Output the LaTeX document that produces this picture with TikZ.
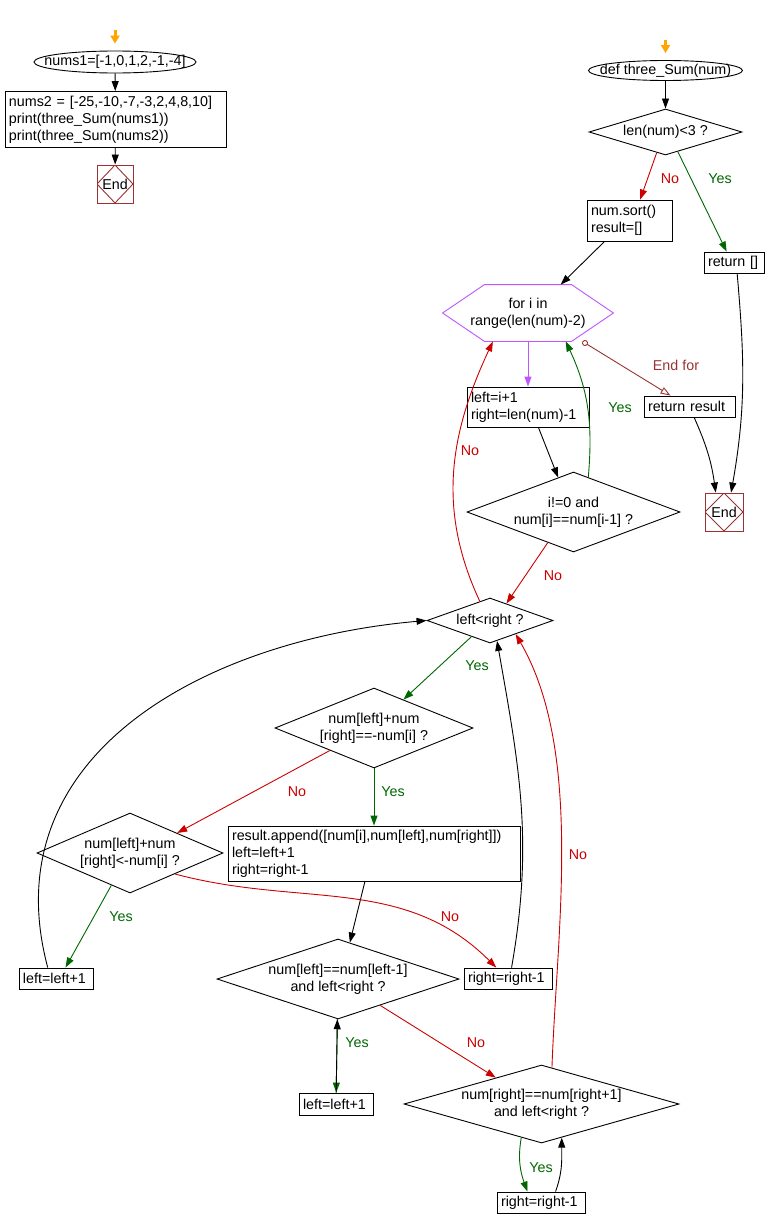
\documentclass[tikz,border=0pt]{standalone}
\usepackage{fontspec}
\setmainfont{Liberation Sans}
\usetikzlibrary{arrows.meta, shapes.geometric, calc}
\definecolor{NoRed}{RGB}{204,0,0}
\definecolor{YesGreen}{RGB}{0,102,0}
\definecolor{EndRed}{RGB}{153,51,51}
\definecolor{LoopViolet}{RGB}{190,85,255}
\definecolor{StartOrange}{RGB}{255,165,0}
\exhyphenpenalty=10000
\hyphenpenalty=10000
\tikzset{
  proc/.style={draw, align=left, inner xsep=4pt, inner ysep=2pt, minimum height=21pt},
  decide/.style={draw, diamond, align=center, inner sep=0pt},
  stopbox/.style={draw=EndRed, minimum width=36pt, minimum height=37pt, inner sep=0pt,
    path picture={\draw[EndRed] (path picture bounding box.north) -- (path picture bounding box.east)
      -- (path picture bounding box.south) -- (path picture bounding box.west) -- cycle;}},
  arr/.style={-{Triangle[length=10pt,width=7pt]}},
  noarr/.style={arr, NoRed},
  yesarr/.style={arr, YesGreen},
  startarr/.style={-{Triangle[length=8pt,width=9pt]}, StartOrange, line width=3pt, shorten >=7pt},
  nolab/.style={text=NoRed},
  yeslab/.style={text=YesGreen},
}

\begin{document}
\begin{tikzpicture}[x=1pt, y=-1pt, line width=0.9pt, font=\fontsize{14.3}{17}\selectfont]
  \useasboundingbox (0,0) rectangle (766,1228);
  % main program
  \node (start1) at (115,62) [minimum width=162pt, minimum height=22pt, inner sep=0pt] {nums1=[-1,0,1,2,-1,-4]};
  \draw (start1.center) ellipse [x radius=81pt, y radius=11pt];
  \node[proc, text width=213pt, minimum height=56pt] (mainbox) at (115.5,119.5)
       {nums2 = [-25,-10,-7,-3,2,4,8,10]\\print(three\_Sum(nums1))\\print(three\_Sum(nums2))};
  \node[stopbox, minimum height=38pt] (end1) at (115,184) {End};
  \coordinate (go1) at (115,30);
  \draw[startarr] (go1) -- (start1.north);
  \draw[arr] (start1) -- (mainbox);
  \draw[arr] (mainbox) -- (end1);

  % function three_Sum
  \node (func) at (665.5,70.5) [minimum width=154pt, minimum height=20pt, inner sep=0pt] {def three\_Sum(num)};
  \draw (func.center) ellipse [x radius=77pt, y radius=10pt];
  \node[decide, aspect=3.3, minimum width=153pt, minimum height=46pt] (lencheck) at (665.5,132) {len(num)<3 ?};
  \node[proc, text width=77pt, minimum height=41pt] (sortbox) at (629.5,220.5) {num.sort()\\result=[]};
  \node[proc, text width=52pt] (retempty) at (734,262.5) {return []};
  \node (loop) at (528,313) [minimum width=170pt, minimum height=56pt, align=center, inner sep=0pt]
       {for i in\\range(len(num)-2)};
  \draw[LoopViolet] (loop.west) -- ($(loop.north west)+(42,0)$) -- ($(loop.north east)+(-42,0)$) -- (loop.east)
       -- ($(loop.south east)+(-42,0)$) -- ($(loop.south west)+(42,0)$) -- cycle;
  \node[proc, text width=114pt, minimum height=40pt] (initbox) at (528,407) {left=i+1\\right=len(num)-1};
  \node[proc, text width=83pt] (retres) at (689.5,406.5) {return result};
  \node[decide, aspect=2.66, minimum width=213pt, minimum height=80pt] (dupcheck) at (573.5,512)
       {i!=0 and\\num[i]==num[i-1] ?};
  \node[stopbox, minimum width=38pt, minimum height=38pt] (end2) at (724,512) {End};
  \node[decide, aspect=2.8, minimum width=126pt, minimum height=45pt] (lr) at (490,620.5) {left<right ?};
  \node[decide, aspect=2.475, minimum width=198pt, minimum height=80pt] (sumcheck) at (374,728)
       {num[left]+num\\{}[right]==-num[i] ?};
  \node[decide, aspect=2.325, minimum width=186pt, minimum height=80pt] (lesscheck) at (130,853)
       {num[left]+num\\{}[right]<-num[i] ?};
  \node[proc, text width=284pt, minimum height=55pt] (appendbox) at (374,853.5)
       {result.append([num[i],num[left],num[right]])\\left=left+1\\right=right-1};
  \node[proc, text width=66pt] (incla) at (56,978.5) {left=left+1};
  \node[proc, text width=80pt] (decra) at (508,978.5) {right=right-1};
  \node[decide, aspect=3.025, minimum width=242pt, minimum height=80pt] (dupleft) at (338,979)
       {num[left]==num[left-1]\\and left<right ?};
  \node[proc, text width=66pt, minimum height=22pt] (inclb) at (336,1104) {left=left+1};
  \node[decide, aspect=3.53, minimum width=275pt, minimum height=78pt] (dupright) at (541.5,1104)
       {num[right]==num[right+1]\\and left<right ?};
  \node[proc, text width=80pt] (decrb) at (541,1202.5) {right=right-1};

  \coordinate (go2) at (665.5,40);
  \coordinate (forexit) at ($(loop.south east)+(-31,0)$);
  \draw[startarr] (go2) -- (func.north);
  \draw[arr] (func) -- (lencheck);
  \draw[noarr] (lencheck.247) -- (sortbox.63);
  \draw[yesarr] (lencheck.302) -- (retempty.124);
  \draw[arr] (sortbox.220) -- (loop.41);
  \draw[arr, LoopViolet] (loop) -- (initbox);
  \draw[arr] (initbox.297) -- (dupcheck.114);
  \draw[yesarr] (dupcheck.67) to[out=85, in=-65] (loop.323);
  \draw[EndRed, {Circle[open,length=6pt]}-{Triangle[open,length=10pt,width=7pt]}] (forexit) -- (retres.150);
  \draw[arr] (retres.293) to[bend left=8] (end2.113);
  \draw[arr] (retempty.286) to[out=-85, in=80] (end2.70);
  \draw[noarr] (dupcheck.230) -- (lr.46);
  \draw[noarr] (lr.118) to[out=115, in=-115] (loop.219);
  \draw[yesarr] (lr.221) -- (sumcheck.44);
  \draw[yesarr] (sumcheck) -- (appendbox);
  \draw[noarr] (sumcheck.207) -- (lesscheck.23);
  \draw[arr] (appendbox.252) -- (dupleft.72);
  \draw[yesarr] (lesscheck.240) -- (incla.49);
  \draw[noarr] (lesscheck.335) to[out=-15, in=135] (decra.137);
  \draw[arr] (decra.72) to[out=80, in=-80] (lr.289);
  \draw[arr] (incla.127) to[out=105, in=185, looseness=1.1] (lr.west);
  \draw[yesarr] (dupleft) -- (inclb);
  \draw[arr] (inclb) -- (dupleft);
  \draw[noarr] (dupleft.328) -- (dupright.150);
  \draw[noarr] (dupright.74) to[out=88, in=-60, looseness=0.8] (lr.332);
  \draw[yesarr] (dupright.239) to[out=-100, in=110] (decrb.141);
  \draw[arr] (decrb.37) to[out=70, in=-90] (dupright.301);

  % branch labels
  \foreach \x/\y [count=\i] in {670/179, 470/451, 553/576, 297/792, 450/917, 476/1043, 578/855}
    \node[nolab] (no\i) at (\x,\y) {No};
  \foreach \x/\y [count=\i] in {720/179, 620/408, 477/666, 393/792, 121/917, 357/1043, 541/1168}
    \node[yeslab] (yes\i) at (\x,\y) {Yes};
  \node[text=EndRed] (endforlab) at (676,365) {End for};
\end{tikzpicture}
\end{document}
